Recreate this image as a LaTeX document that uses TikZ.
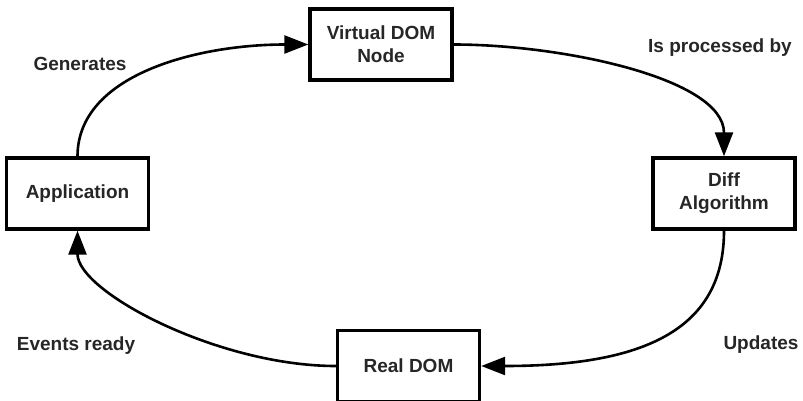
\documentclass[tikz,border=0pt]{standalone}
\usepackage{fontspec}
\setmainfont{Liberation Sans}
\usetikzlibrary{arrows.meta}
\begin{document}
\begin{tikzpicture}[x=1pt,y=-1pt,
  box/.style={draw=black, line width=3.4pt, minimum width=142pt, minimum height=71pt,
    align=center, inner sep=0pt, font=\fontsize{19}{23}\selectfont\bfseries, text=black!85},
  lbl/.style={font=\fontsize{19}{23}\selectfont\bfseries, text=black!85, inner sep=0pt},
  conn/.style={line width=2.6pt, -{Triangle[length=24pt,width=18pt]}}]
\useasboundingbox (0,0) rectangle (803,401);
\node[box] (vdom) at (381,44.5) {Virtual DOM\\Node};
\node[box] (app) at (77.5,193.5) {Application};
\node[box] (diff) at (724,193.5) {Diff\\Algorithm};
\node[box] (real) at (408.5,366) {Real DOM};
\node[lbl] (l1) at (80,64) {Generates};
\node[lbl] (l2) at (720,48) {Is processed by};
\node[lbl] (l3) at (76,346) {Events ready};
\node[lbl] (l4) at (761,345) {Updates};
\draw[conn] (app.north) .. controls +(0,-82) and +(-110,0) .. (vdom.west);
\draw[conn] (vdom.east) .. controls +(108,0) and +(0,-78) .. (diff.north);
\draw[conn] (diff.south) .. controls +(0,100) and +(161,0) .. (real.east);
\draw[conn] (real.west) .. controls +(-118,0) and +(0,61) .. (app.south);
\end{tikzpicture}
\end{document}
